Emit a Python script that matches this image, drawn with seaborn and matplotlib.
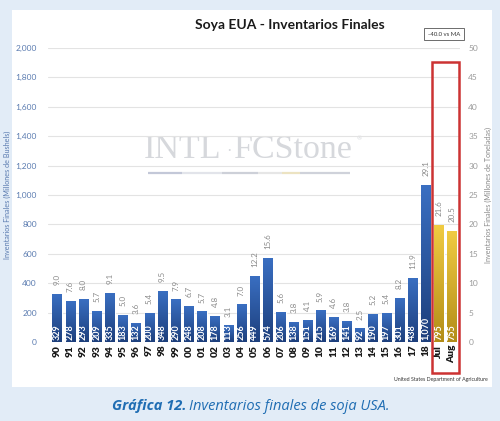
import matplotlib
matplotlib.use("Agg")
import matplotlib.pyplot as plt
import seaborn as sns
import numpy as np
import pandas as pd
from matplotlib.patches import Rectangle
from matplotlib.lines import Line2D
from matplotlib.colors import LinearSegmentedColormap

# ---- data ----
years = ["90", "91", "92", "93", "94", "95", "96", "97", "98", "99", "00", "01", "02",
         "03", "04", "05", "06", "07", "08", "09", "10", "11", "12", "13", "14", "15",
         "16", "17", "18", "Jul", "Aug"]
bushels = [329, 278, 293, 209, 335, 183, 132, 200, 348, 290, 248, 208, 178,
           113, 256, 449, 574, 206, 138, 151, 215, 169, 141, 92, 190, 197,
           301, 438, 1070, 795, 755]
tonnes = ["9.0", "7.6", "8.0", "5.7", "9.1", "5.0", "3.6", "5.4", "9.5", "7.9", "6.7", "5.7", "4.8",
          "3.1", "7.0", "12.2", "15.6", "5.6", "3.8", "4.1", "5.9", "4.6", "3.8", "2.5", "5.2", "5.4",
          "8.2", "11.9", "29.1", "21.6", "20.5"]
group = ["Final"] * 29 + ["Proyección"] * 2
left_ticks = [0, 200, 400, 600, 800, 1000, 1200, 1400, 1600, 1800, 2000]
right_ticks = [0, 5, 10, 15, 20, 25, 30, 35, 40, 45, 50]

df = pd.DataFrame({"year": years, "bushels": bushels, "group": group})

sns.set_theme(style="white")
plt.rcParams["font.family"] = ["Lato", "DejaVu Sans"]

W, H = 500, 421
fig = plt.figure(figsize=(W / 100, H / 100), dpi=100)
fig.patch.set_facecolor("#e2ecf7")
fig.patches.append(Rectangle((12 / W, 1 - 387 / H), (492 - 12) / W, (387 - 10) / H,
                             transform=fig.transFigure, facecolor="white", edgecolor="none", zorder=-2))

ax = fig.add_axes([48 / W, 1 - 342 / H, (460 - 48) / W, (342 - 48) / H])
ax.set_facecolor("none")

sns.barplot(data=df, x="year", y="bushels", hue="group", dodge=False, order=years,
            palette={"Final": "#2c5ca6", "Proyección": "#e6bd2e"}, width=0.72,
            legend=False, ax=ax, zorder=3, saturation=1)

ax.set_xlim(-0.7, 30.6)
ax.set_ylim(0, 2000)
ax.set_yticks(left_ticks)
ax.set_yticklabels([f"{v:,}" for v in left_ticks], fontsize=6, color="#5a7bb0")
ax.yaxis.grid(True, color="#e3e3e3", linewidth=0.8, zorder=0)
ax.set_axisbelow(True)
for s in ax.spines.values():
    s.set_visible(False)
ax.tick_params(axis="y", length=0, pad=8)
ax.tick_params(axis="x", length=0, pad=2)
ax.set_xticks(range(len(years)))
ax.set_xticklabels(years, rotation=90, fontsize=7.3, fontweight="heavy", color="#1a1a1a")
ax.set_xlabel("")
ax.set_ylabel("Inventarios Finales (Millones de Bushels)", fontsize=5.2, color="#5a7bb0", labelpad=3)

# gradient fills
blue_cm = LinearSegmentedColormap.from_list("b", ["#1d3f7c", "#3a6fc2"])
gold_cm = LinearSegmentedColormap.from_list("g", ["#b38d18", "#f0cb42"])
grad = np.linspace(0, 1, 64).reshape(-1, 1)
for p in list(ax.patches):
    h = p.get_height()
    if h <= 0:
        continue
    x0 = p.get_x()
    w = p.get_width()
    fc = p.get_facecolor()
    cm = gold_cm if fc[0] > 0.7 else blue_cm
    im = ax.imshow(grad, cmap=cm, origin="lower", extent=[x0, x0 + w, 0, h],
                   aspect="auto", zorder=3.5, interpolation="bicubic")
    im.set_clip_path(p)

ax.set_xlim(-0.7, 30.6)
ax.set_ylim(0, 2000)

# labels
for i, (b, t) in enumerate(zip(bushels, tonnes)):
    ax.text(i, 12, f"{b:,}", rotation=90, ha="center", va="bottom", fontsize=6.5,
            fontweight="bold", color="white", zorder=5)
    ax.text(i, b + 60, t, rotation=90, ha="center", va="bottom", fontsize=5.8,
            color="#8a8a8a", zorder=5)

# right axis
ax2 = ax.twinx()
ax2.set_ylim(0, 50)
ax2.set_yticks(right_ticks)
ax2.set_yticklabels([str(v) for v in right_ticks], fontsize=6, color="#9a9a9a")
ax2.tick_params(axis="y", length=0, pad=6)
for s in ax2.spines.values():
    s.set_visible(False)
ax2.set_ylabel("Inventarios Finales (Millones de Toneladas)", fontsize=5.2, color="#8a8a8a", labelpad=5)
ax2.grid(False)

# red highlight box
ax.add_patch(Rectangle((28.47, -211), 2.06, 2116, fill=False, edgecolor="#cc3333",
                       linewidth=1.8, clip_on=False, zorder=6))

# title and annotations
fig.text(290 / W, 1 - 25 / H, "Soya EUA - Inventarios Finales", ha="center", va="center",
         fontsize=10, fontweight="bold", color="#1a1a1a")
fig.text(444 / W, 1 - 34 / H, "-40.0 vs MA", ha="center", va="center", fontsize=4.3, color="#333333",
         bbox=dict(boxstyle="square,pad=0.6", facecolor="white", edgecolor="#555555", linewidth=0.6))

# watermark
wm = "#d6d8dc"
fig.text(221 / W, 1 - 150 / H, "INTL", ha="right", va="center", fontsize=24.5,
         family="Liberation Serif", color=wm, zorder=-1)
fig.text(229 / W, 1 - 152 / H, "·", ha="center", va="center", fontsize=12,
         family="Liberation Serif", color=wm, zorder=-1)
fig.text(234 / W, 1 - 150 / H, "FCStone", ha="left", va="center", fontsize=24.5,
         family="Liberation Serif", color=wm, zorder=-1)
fig.text(357 / W, 1 - 139 / H, "®", ha="left", va="center", fontsize=4.5, color=wm, zorder=-1)
segs = [(148, 182, "#c3c8d8"), (182, 222, "#e2e4ea"), (222, 258, "#cdd0d8"),
        (258, 282, "#e6e6e6"), (282, 300, "#ece3c2"), (300, 350, "#cfd2da")]
for xa, xb, c in segs:
    fig.lines.append(Line2D([xa / W, xb / W], [1 - 173 / H, 1 - 173 / H], transform=fig.transFigure,
                            color=c, linewidth=1.6, zorder=-1, solid_capstyle="butt"))

fig.text(488 / W, 1 - 380 / H, "United States Department of Agriculture", ha="right", va="center",
         fontsize=3.8, color="#333333")

fig.text(186 / W, 1 - 406 / H, "Gráfica 12.", ha="right", va="center", fontsize=10.5,
         fontweight="bold", style="italic", color="#1f6db3", family=["Open Sans", "DejaVu Sans"])
fig.text(189 / W, 1 - 406 / H, "Inventarios finales de soja USA.", ha="left", va="center",
         fontsize=10.5, style="italic", color="#1f6db3", family=["Open Sans", "DejaVu Sans"])

fig.savefig("out.png", dpi=100, facecolor=fig.get_facecolor())
